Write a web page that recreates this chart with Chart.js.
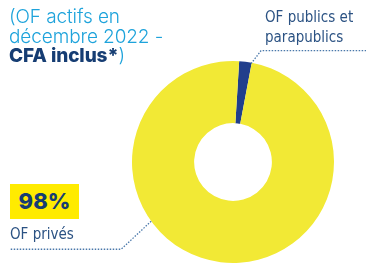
<!DOCTYPE html>
<html>
<head>
<meta charset="utf-8">
<script src="https://cdn.jsdelivr.net/npm/chart.js@4"></script>
<style>
  html, body { margin: 0; padding: 0; background: #fff; }
  #wrap { position: relative; width: 366px; height: 266px; overflow: hidden; }
  #chart { position: absolute; left: 0; top: 0; }
  .title { position: absolute; left: 9px; top: 7px; font-family: Inter, "Open Sans", sans-serif;
           font-size: 19px; font-weight: 300; line-height: 19.5px; color: #1ea3db; letter-spacing: -0.1px; }
  .title b { color: #163d73; font-weight: 800; }
  .lbl { position: absolute; font-family: "Liberation Sans Narrow", "DejaVu Sans Condensed", sans-serif;
         font-size: 15px; line-height: 20px; color: #2b5283; }
  .big { position: absolute; left: 10px; top: 184px; width: 69px; height: 35px; background: #ffeb00;
         font-family: Inter, sans-serif; font-weight: 800; font-size: 22px; line-height: 35px;
         color: #163d73; text-align: center; }
</style>
</head>
<body>
<div id="wrap">
  <canvas id="chart" width="366" height="266"></canvas>
  <div class="title">(OF actifs en<br>décembre 2022 -<br><b>CFA inclus*</b>)</div>
  <div class="lbl" id="lblPub" style="left:265px; top:7px;"></div>
  <div class="big" id="bigVal"></div>
  <div class="lbl" id="lblPriv" style="left:10px; top:224px;"></div>
</div>
<script>
// categories and values (share of active OF, %)
const categories = ['OF publics et parapublics', 'OF privés'];
const shares = [2, 98];
const colors = ['#213f8c', '#f2e935'];
const labelLines = [['OF publics et', 'parapublics'], ['OF privés']];

document.getElementById('lblPub').innerHTML = labelLines[0].join('<br>');
document.getElementById('lblPriv').innerHTML = labelLines[1].join('<br>');
document.getElementById('bigVal').textContent = shares[1] + '%';

// dotted leader lines, anchored on the arcs
const leaders = {
  id: 'leaders',
  afterDraw(chart) {
    const ctx = chart.ctx;
    const arcs = chart.getDatasetMeta(0).data;
    ctx.save();
    ctx.strokeStyle = '#4a78aa';
    ctx.lineWidth = 1.3;
    ctx.setLineDash([1.5, 1.5]);

    // public: right edge of small slice
    let a = arcs[0];
    let ang = a.endAngle - 0.005;
    let r = a.outerRadius - 1;
    let x0 = a.x + Math.cos(ang) * r, y0 = a.y + Math.sin(ang) * r;
    ctx.beginPath();
    ctx.moveTo(x0, y0);
    ctx.lineTo(x0 + 10, y0 - 13);
    ctx.lineTo(chart.width, y0 - 13);
    ctx.stroke();

    // private: lower-left of big slice
    a = arcs[1];
    ang = 2.515;
    r = a.outerRadius;
    x0 = a.x + Math.cos(ang) * r; y0 = a.y + Math.sin(ang) * r;
    ctx.beginPath();
    ctx.moveTo(x0, y0);
    ctx.lineTo(x0 - 30, y0 + 28);
    ctx.lineTo(10, y0 + 28);
    ctx.stroke();
    ctx.restore();
  }
};

new Chart(document.getElementById('chart'), {
  type: 'doughnut',
  data: {
    labels: categories,
    datasets: [{
      data: shares,
      backgroundColor: colors,
      borderWidth: 0
    }]
  },
  options: {
    responsive: false,
    animation: false,
    rotation: 3.5,
    cutout: '38.5%',
    layout: { padding: { left: 132, right: 32, top: 61, bottom: 3 } },
    plugins: { legend: { display: false }, tooltip: { enabled: false } }
  },
  plugins: [leaders]
});
</script>
</body>
</html>
